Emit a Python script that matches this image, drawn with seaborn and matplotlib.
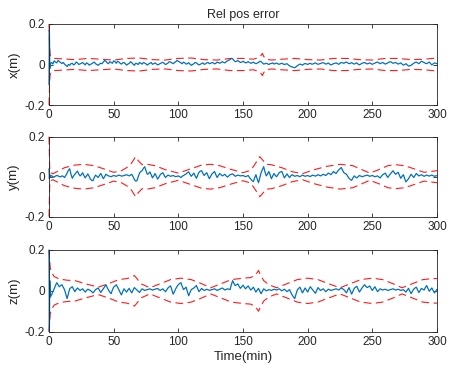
import numpy as np
import pandas as pd
import matplotlib
matplotlib.use("Agg")
import matplotlib.pyplot as plt
import seaborn as sns

# ---------------- data ----------------
t_early = [0.0, 0.3, 0.6]
t_main = list(np.arange(1, 301, 1))
time_min = t_early + t_main

x_err = [-0.10, 0.17, -0.02,
    0.004, 0.010, 0.002, 0.018, 0.012, 0.008, 0.020, 0.015, 0.009, 0.005,
    0.010, 0.002, -0.004, -0.010, 0.000, -0.004, 0.004, 0.006, -0.002, 0.002,
    0.012, 0.008, 0.000, 0.003, 0.006, 0.010, 0.004, -0.002, 0.008, 0.005,
    -0.003, 0.000, 0.004, 0.008, 0.012, 0.004, 0.000, -0.004, 0.002, 0.006,
    0.004, 0.012, 0.020, 0.016, 0.008, 0.004, 0.014, 0.010, 0.006, 0.018,
    0.014, 0.006, 0.016, 0.012, 0.006, 0.002, 0.008, 0.010, 0.004, -0.003,
    0.002, 0.005, 0.014, 0.009, 0.002, -0.004, 0.006, 0.004, 0.000, 0.010,
    0.006, 0.002, 0.010, 0.007, 0.003, -0.003, 0.002, 0.006, 0.010, 0.001,
    0.004, 0.008, 0.003, -0.002, 0.001, 0.005, 0.008, 0.011, 0.006, 0.000,
    0.003, 0.007, 0.014, 0.012, 0.008, 0.004, 0.010, 0.014, 0.020, 0.016,
    0.012, 0.008, 0.004, 0.012, 0.008, 0.002, 0.004, 0.009, 0.002, -0.004,
    0.000, 0.004, 0.010, 0.008, 0.002, -0.002, 0.001, 0.005, 0.008, 0.001,
    0.003, 0.008, 0.010, 0.004, 0.006, 0.010, 0.008, 0.003, 0.006, 0.012,
    0.009, 0.006, 0.010, 0.014, 0.010, 0.008, 0.014, 0.018, 0.022, 0.024,
    0.030, 0.028, 0.020, 0.014, 0.016, 0.020, 0.014, 0.010, 0.012, 0.016,
    0.012, 0.008, 0.010, 0.014, 0.010, 0.006, 0.008, 0.012, 0.007, 0.004,
    0.007, 0.010, 0.016, 0.014, 0.008, 0.002, 0.004, 0.006, 0.003, 0.000,
    0.004, 0.005, 0.008, 0.002, 0.005, 0.007, 0.003, 0.001, 0.004, 0.006,
    0.003, 0.000, 0.002, 0.004, -0.002, -0.006, -0.010, -0.012, -0.014, -0.016,
    -0.012, -0.006, -0.002, 0.002, 0.000, -0.003, 0.002, 0.005, 0.003, 0.000,
    0.004, 0.006, 0.002, 0.002, 0.006, 0.008, 0.004, 0.001, 0.003, 0.005,
    0.008, 0.009, 0.006, 0.002, 0.004, 0.007, 0.002, -0.002, 0.001, 0.004,
    0.006, 0.008, 0.004, 0.001, 0.006, 0.010, 0.008, 0.006, 0.010, 0.012,
    0.008, 0.004, 0.006, 0.009, 0.005, 0.002, 0.005, 0.008, 0.002, -0.002,
    0.002, 0.006, 0.008, 0.010, 0.006, 0.003, 0.005, 0.008, 0.004, 0.001,
    0.004, 0.007, 0.010, 0.012, 0.008, 0.004, 0.007, 0.010, 0.006, 0.002,
    0.005, 0.008, 0.012, 0.014, 0.010, 0.006, 0.008, 0.010, 0.006, 0.002,
    0.005, 0.008, 0.002, -0.003, 0.000, 0.004, -0.002, -0.008, -0.006, -0.004,
    0.001, 0.006, 0.010, 0.012, 0.008, 0.004, 0.010, 0.016, 0.013, 0.010,
    0.006, 0.004, 0.008, 0.012, 0.005, -0.002, 0.003, 0.008, 0.006, 0.004]

y_err = [0.040, -0.010, 0.010,
    0.002, 0.005, 0.001, -0.002, 0.003, 0.006, 0.004, 0.001, -0.001, 0.004,
    0.002, -0.004, 0.006, 0.018, 0.032, 0.040, 0.012, -0.008, 0.004, 0.012,
    0.020, 0.028, 0.014, 0.004, 0.010, 0.020, 0.006, -0.006, 0.004, 0.014,
    0.002, -0.012, -0.018, -0.020, -0.004, 0.008, 0.002, -0.004, 0.006, 0.016,
    0.004, -0.010, 0.000, 0.012, 0.008, 0.004, 0.002, 0.000, 0.003, 0.006,
    0.004, 0.002, 0.005, 0.008, 0.006, 0.003, 0.004, 0.006, 0.008, 0.010,
    0.007, 0.004, 0.008, 0.012, 0.000, -0.014, -0.022, -0.020, 0.000, 0.018,
    0.026, 0.030, 0.042, 0.050, 0.030, 0.012, 0.016, 0.024, 0.010, -0.006,
    0.004, 0.016, 0.002, -0.012, -0.002, 0.010, 0.016, 0.020, 0.008, -0.004,
    0.002, 0.008, 0.005, 0.002, 0.004, 0.006, 0.003, 0.000, 0.002, 0.004,
    0.000, -0.004, 0.002, 0.006, 0.010, 0.014, 0.020, 0.024, 0.012, 0.002,
    0.010, 0.018, 0.004, -0.008, 0.008, 0.022, 0.028, 0.030, 0.016, 0.006,
    0.014, 0.020, 0.004, -0.010, 0.002, 0.014, 0.020, 0.026, 0.010, -0.004,
    0.006, 0.016, 0.010, 0.004, 0.008, 0.012, 0.004, -0.002, 0.004, 0.010,
    0.012, 0.014, 0.008, 0.002, 0.005, 0.008, 0.006, 0.004, 0.005, 0.006,
    0.003, 0.000, 0.003, 0.006, -0.004, -0.012, -0.020, -0.024, -0.006, 0.010,
    -0.012, -0.030, -0.004, 0.020, 0.036, 0.050, 0.024, 0.004, 0.014, 0.026,
    0.008, -0.010, 0.004, 0.016, 0.006, 0.000, 0.010, 0.020, 0.024, 0.026,
    0.010, -0.006, 0.004, 0.014, 0.004, -0.004, 0.004, 0.010, 0.006, 0.002,
    0.004, 0.006, 0.003, 0.000, 0.004, 0.008, 0.005, 0.002, 0.004, 0.006,
    0.003, 0.001, 0.005, 0.008, 0.005, 0.003, 0.006, 0.010, 0.007, 0.004,
    0.008, 0.012, 0.009, 0.006, 0.012, 0.018, 0.014, 0.010, 0.018, 0.026,
    0.020, 0.016, 0.026, 0.034, 0.040, 0.046, 0.032, 0.020, 0.016, 0.012,
    0.002, -0.008, -0.014, -0.018, -0.006, 0.004, -0.002, -0.006, 0.000, 0.006,
    0.003, 0.000, 0.002, 0.004, 0.006, 0.008, 0.005, 0.002, 0.004, 0.006,
    0.003, 0.000, 0.002, 0.004, -0.001, -0.006, 0.002, 0.010, 0.014, 0.018,
    0.006, -0.004, 0.006, 0.014, 0.022, 0.030, 0.020, 0.012, 0.018, 0.022,
    0.006, -0.008, 0.002, 0.010, -0.010, -0.026, -0.018, -0.010, 0.002, 0.012,
    0.004, -0.004, 0.006, 0.016, 0.010, 0.004, 0.007, 0.010, 0.006, 0.002,
    0.005, 0.008, 0.005, 0.003, 0.006, 0.008, 0.005, 0.002, 0.004, 0.005]

z_err = [0.20, -0.20, 0.05,
    -0.030, -0.020, -0.004, 0.010, 0.026, 0.040, 0.030, 0.020, 0.026, 0.030,
    0.018, 0.006, -0.016, -0.038, -0.014, 0.010, 0.016, 0.020, 0.008, -0.004,
    0.006, 0.014, 0.008, 0.002, 0.006, 0.010, 0.002, -0.006, 0.002, 0.008,
    0.005, 0.002, -0.004, -0.010, -0.002, 0.006, 0.010, 0.014, 0.003, -0.008,
    0.002, 0.010, 0.020, 0.030, 0.016, 0.004, -0.006, -0.014, 0.004, 0.018,
    0.024, 0.030, 0.018, 0.006, -0.008, -0.020, -0.004, 0.010, 0.002, -0.006,
    0.004, 0.012, 0.000, -0.010, 0.004, 0.016, 0.010, 0.004, -0.002, -0.008,
    0.002, 0.010, 0.006, 0.002, 0.004, 0.006, 0.008, 0.010, 0.007, 0.004,
    0.006, 0.008, 0.010, 0.012, 0.006, 0.002, 0.006, 0.010, 0.003, -0.004,
    0.004, 0.014, 0.020, 0.024, 0.004, -0.016, -0.004, 0.010, 0.022, 0.030,
    0.036, 0.040, 0.022, 0.006, 0.012, 0.018, -0.004, -0.024, -0.008, 0.006,
    0.010, 0.014, 0.020, 0.026, 0.010, -0.004, 0.004, 0.012, 0.006, 0.002,
    0.005, 0.008, 0.005, 0.003, 0.004, 0.006, 0.008, 0.010, 0.006, 0.002,
    0.005, 0.008, 0.011, 0.014, 0.009, 0.004, 0.007, 0.010, 0.008, 0.006,
    0.030, 0.050, 0.036, 0.026, 0.030, 0.034, 0.022, 0.012, 0.020, 0.028,
    0.018, 0.010, 0.018, 0.024, 0.014, 0.004, 0.010, 0.018, 0.006, -0.006,
    0.004, 0.012, -0.002, -0.014, -0.002, 0.010, 0.005, 0.000, 0.003, 0.006,
    0.004, 0.002, 0.005, 0.008, 0.006, 0.004, 0.007, 0.010, 0.005, 0.000,
    0.004, 0.008, 0.002, -0.004, 0.001, 0.006, -0.008, -0.020, -0.030, -0.038,
    -0.016, 0.004, 0.012, 0.018, 0.004, -0.010, 0.002, 0.014, 0.004, -0.006,
    0.008, 0.020, 0.012, 0.004, -0.004, -0.012, 0.002, 0.016, 0.008, 0.002,
    0.006, 0.010, 0.003, -0.004, 0.002, 0.008, 0.005, 0.002, 0.004, 0.006,
    0.008, 0.010, 0.007, 0.004, 0.009, 0.014, 0.010, 0.006, -0.002, -0.010,
    0.004, 0.016, 0.000, -0.016, -0.002, 0.012, 0.018, 0.022, 0.008, -0.006,
    0.004, 0.014, 0.022, 0.030, 0.022, 0.016, 0.020, 0.024, 0.012, 0.002,
    0.012, 0.020, 0.008, -0.004, 0.003, 0.010, 0.007, 0.004, 0.006, 0.008,
    0.005, 0.002, 0.004, 0.006, 0.008, 0.010, 0.007, 0.004, 0.006, 0.008,
    0.005, 0.002, 0.004, 0.006, 0.000, -0.006, 0.004, 0.012, -0.002, -0.014,
    -0.002, 0.008, 0.014, 0.018, 0.004, -0.008, 0.002, 0.012, 0.008, 0.004,
    0.016, 0.026, 0.012, -0.002, 0.006, 0.014, 0.002, -0.010, -0.002, 0.008]

# 3-sigma envelopes (each with its own time samples)
sx_t = [0, 0.5, 1, 2, 4, 10, 20, 30, 40, 50, 60, 70, 80, 90, 100, 110, 120,
        130, 140, 150, 158, 162, 164, 165, 166, 168, 172, 180, 190, 200, 210,
        220, 230, 240, 250, 260, 270, 280, 290, 300]
sx_v = [0.2, 0.08, 0.045, 0.035, 0.03, 0.028, 0.024, 0.030, 0.026, 0.022,
        0.030, 0.032, 0.024, 0.022, 0.030, 0.032, 0.024, 0.022, 0.030, 0.030,
        0.026, 0.034, 0.045, 0.055, 0.040, 0.026, 0.022, 0.026, 0.030, 0.024,
        0.022, 0.030, 0.030, 0.024, 0.022, 0.030, 0.030, 0.024, 0.026, 0.032]

sy_t = [0, 0.5, 1, 3, 6, 12, 20, 27, 35, 42, 50, 56, 60, 63, 65, 67, 69, 72,
        76, 82, 90, 100, 110, 118, 125, 132, 140, 150, 155, 158, 161, 163, 165,
        168, 172, 180, 188, 196, 205, 215, 225, 235, 242, 248, 255, 262, 268,
        275, 282, 290, 300]
sy_v = [0.2, 0.05, 0.02, 0.015, 0.025, 0.045, 0.058, 0.062, 0.055, 0.04,
        0.022, 0.03, 0.045, 0.06, 0.08, 0.10, 0.08, 0.06, 0.062, 0.055, 0.035,
        0.018, 0.04, 0.058, 0.062, 0.055, 0.038, 0.02, 0.03, 0.05, 0.08, 0.10,
        0.085, 0.062, 0.06, 0.045, 0.025, 0.015, 0.035, 0.052, 0.062, 0.055,
        0.035, 0.018, 0.035, 0.055, 0.06, 0.055, 0.04, 0.022, 0.03]

sz_t = [0, 0.5, 1, 2, 4, 8, 14, 20, 28, 38, 46, 54, 60, 63, 65, 66, 68, 71,
        78, 86, 94, 102, 110, 118, 125, 133, 141, 150, 156, 159, 161, 162, 163,
        166, 170, 176, 184, 192, 200, 208, 216, 225, 233, 241, 250, 258, 266,
        273, 281, 289, 297, 300]
sz_v = [0.2, 0.15, 0.11, 0.09, 0.07, 0.058, 0.052, 0.05, 0.035, 0.018, 0.035,
        0.055, 0.06, 0.065, 0.072, 0.075, 0.06, 0.035, 0.015, 0.035, 0.055,
        0.062, 0.055, 0.035, 0.015, 0.035, 0.055, 0.062, 0.065, 0.075, 0.09,
        0.10, 0.085, 0.05, 0.03, 0.015, 0.035, 0.055, 0.062, 0.055, 0.035,
        0.015, 0.035, 0.055, 0.062, 0.055, 0.035, 0.015, 0.035, 0.055, 0.06,
        0.06]

x_ticks = [0, 50, 100, 150, 200, 250, 300]
y_ticks = [-0.2, 0, 0.2]
y_tick_labels = ["-0.2", "0", "0.2"]
y_labels = ["x(m)", "y(m)", "z(m)"]
title = "Rel pos error"
x_label = "Time(min)"

# ---------------- plot ----------------
sns.set_theme(style="ticks")
plt.rcParams["font.family"] = ["Liberation Sans", "DejaVu Sans"]

BLUE = "#0072BD"
RED = "#ff1a1a"
INK = "#262626"

fig = plt.figure(figsize=(4.54, 3.72), dpi=100)
W, H = 454, 372
boxes = [(24, 105), (136.7, 216.7), (250, 331.7)]
series = [(x_err, sx_t, sx_v), (y_err, sy_t, sy_v), (z_err, sz_t, sz_v)]

for i, ((top, bot), (err, st, sv)) in enumerate(zip(boxes, series)):
    ax = fig.add_axes([49 / W, 1 - bot / H, (437 - 49) / W, (bot - top) / H])
    df = pd.DataFrame({"t": time_min, "e": err})
    env = pd.DataFrame({"t": st, "up": sv, "lo": [-v for v in sv]})
    for col in ["up", "lo"]:
        sns.lineplot(data=env, x="t", y=col, ax=ax, color=RED, linewidth=0.8,
                     estimator=None, sort=False)
        ax.lines[-1].set_dashes([7, 4])
        ax.lines[-1].set_clip_on(False)
    sns.lineplot(data=df, x="t", y="e", ax=ax, color=BLUE, linewidth=0.9,
                 estimator=None, sort=False)
    ax.lines[-1].set_clip_on(False)
    ax.set_xlim(0, 300)
    ax.set_ylim(-0.2, 0.2)
    ax.set_xticks(x_ticks)
    ax.set_yticks(y_ticks)
    ax.set_yticklabels(y_tick_labels)
    ax.set_ylabel(y_labels[i], fontsize=9.5, labelpad=3, color=INK)
    ax.set_xlabel(x_label if i == 2 else "", fontsize=9.5, labelpad=2,
                  color=INK)
    ax.tick_params(direction="in", length=3, width=0.6, labelsize=8.5,
                   top=True, right=True, pad=3, colors=INK)
    for s in ax.spines.values():
        s.set_visible(True)
        s.set_linewidth(0.6)
        s.set_color(INK)
    if i == 0:
        ax.set_title(title, fontsize=9, pad=4, color=INK)

fig.savefig("out.png", dpi=100)
